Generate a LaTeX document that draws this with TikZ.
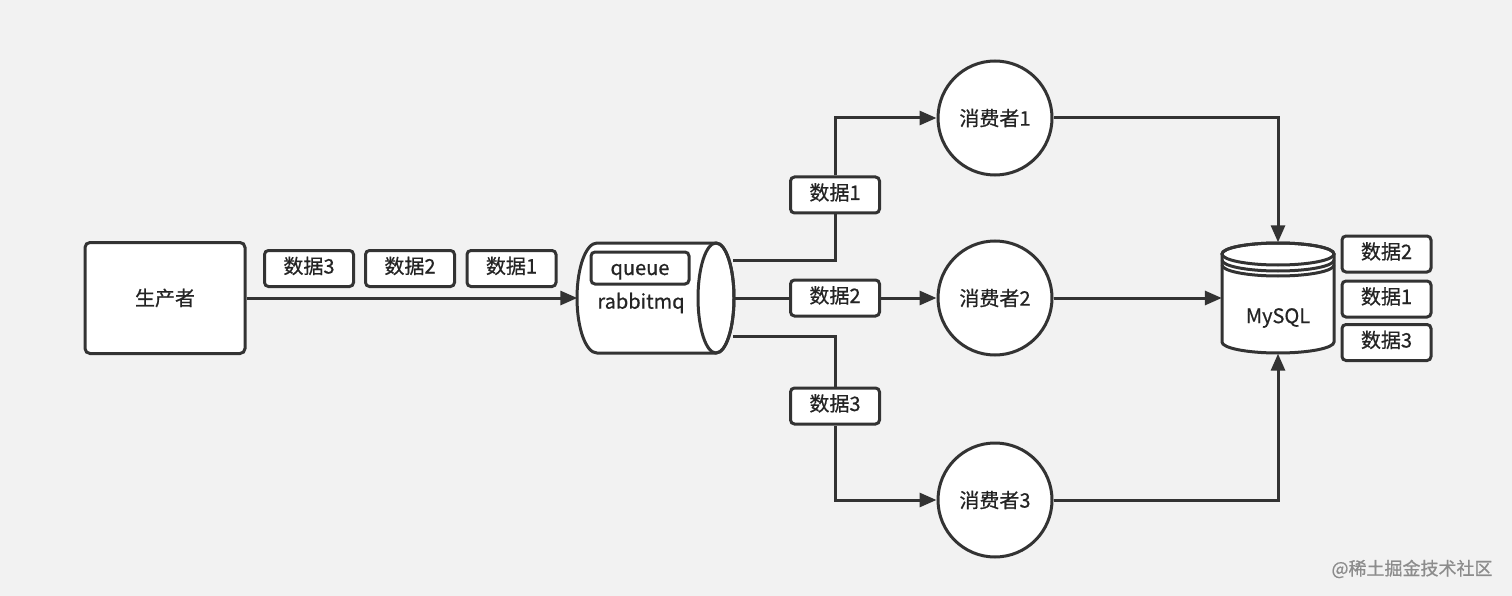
\documentclass[tikz,border=0pt]{standalone}
\usepackage{fontspec}
\setmainfont{Noto Sans CJK SC}[FakeBold=0.6]
\usetikzlibrary{arrows.meta,calc}
\definecolor{bg}{HTML}{F2F2F2}
\definecolor{ln}{HTML}{333333}
\begin{document}
\begin{tikzpicture}[x=1pt,y=-1pt,
  every node/.style={font=\fontsize{20}{24}\selectfont, text=ln!70!black},
  ln/.style={draw=ln, line width=3pt},
  arr/.style={ln, -{Triangle[length=17pt,width=14pt]}},
  bigbox/.style={ln, fill=white, rounded corners=5pt, minimum width=160pt, minimum height=111pt},
  databox/.style={ln, fill=white, rounded corners=4pt, minimum width=89pt, minimum height=36pt, inner sep=0pt, text height=14pt, text depth=4pt},
  consumer/.style={ln, fill=white, circle, minimum size=114pt, inner sep=0pt},
  ghost/.style={inner sep=0pt}
]
\fill[bg] (0,0) rectangle (1512,596);
\useasboundingbox (0,0) rectangle (1512,596);

% producer
\node[bigbox] (prod) at (165,298) {生产者};
\node[databox] (p3) at (309,268.5) {数据3};
\node[databox] (p2) at (410,268.5) {数据2};
\node[databox] (p1) at (511.5,268.5) {数据1};

% queue cylinder
\node[ghost, minimum width=158pt, minimum height=110pt] (q) at (656.5,298) {};
\path[ln, fill=white] (716,243) -- (597,243) arc(270:90:20 and 55) -- (716,353) arc(90:-90:18 and 55) -- cycle;
\draw[ln] (716,298) ellipse (18 and 55);
\node[databox, minimum width=98pt, minimum height=32pt, text height=16pt, text depth=2pt] (qbox) at (640,268) {queue};
\node (rmq) at (641,303) {rabbitmq};
\coordinate (qo1) at (733,260);
\coordinate (qo2) at (733,298);
\coordinate (qo3) at (733,336);

\draw[arr] (prod.east) -- (q.west);

% consumers
\node[consumer] (c1) at (995,118) {消费者1};
\node[consumer] (c2) at (995,298) {消费者2};
\node[consumer] (c3) at (995,500) {消费者3};

\node[databox] (d1) at (835,195) {数据1};
\node[databox] (d2) at (835,298) {数据2};
\node[databox] (d3) at (835,406) {数据3};

\draw[ln] (qo1) -| (d1.south);
\draw[arr] (d1.north) |- (c1.west);
\draw[ln] (qo2) -- (d2.west);
\draw[arr] (d2.east) -- (c2.west);
\draw[ln] (qo3) -| (d3.north);
\draw[arr] (d3.south) |- (c3.west);

% MySQL cylinder
\node[ghost, minimum width=112pt, minimum height=111pt] (db) at (1278,298) {};
\path[ln, fill=white] (1222,254) -- (1222,342) arc(180:0:56 and 11) -- (1334,254) arc(0:-180:56 and 11) -- cycle;
\draw[ln] (1278,254) ellipse (56 and 11);
\draw[ln] (1222,260) arc(180:0:56 and 11);
\draw[ln] (1222,265) arc(180:0:56 and 11);
\node (mysql) at (1278,318) {MySQL};

\draw[arr] (c1.east) -| (db.north);
\draw[arr] (c2.east) -- (db.west);
\draw[arr] (c3.east) -| (db.south);

\node[databox] (m2) at (1386.5,254) {数据2};
\node[databox] (m1) at (1386.5,299) {数据1};
\node[databox] (m3) at (1386.5,342.5) {数据3};

% watermark
\node[font=\fontsize{18}{22}\selectfont, text=black!45] (wm) at (1412,569) {@稀土掘金技术社区};
\end{tikzpicture}
\end{document}
